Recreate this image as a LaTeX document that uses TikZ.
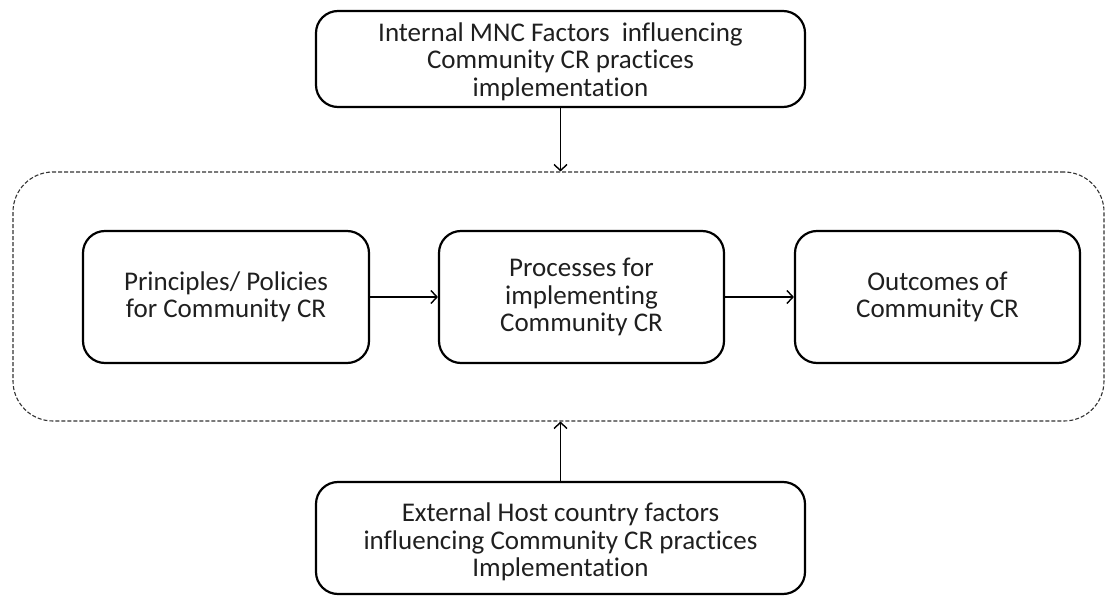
\documentclass[tikz,border=0pt]{standalone}
\usepackage{fontspec}
\setmainfont{Carlito}[Ligatures={NoCommon}]
\usetikzlibrary{arrows.meta}
\begin{document}
\begin{tikzpicture}[x=1pt,y=-1pt,
  box/.style={draw=black, line width=2.2pt, rounded corners=22pt, align=center, inner sep=0pt,
    font=\fontsize{27}{27.5}\selectfont, text=black!88},
  conn/.style={draw=black, line width=1.4pt, -{Straight Barb[length=6pt,width=13pt,line width=1.4pt]}},
  frame/.style={draw=black!80, line width=1.1pt, dashed, dash pattern=on 4pt off 2pt, rounded corners=40pt}]
\useasboundingbox (0,0) rectangle (1106,596);
\node[box, minimum width=489pt, minimum height=96pt] (top) at (560.5,59)
  {\rule{0pt}{24pt}Internal MNC Factors\ \ influencing\\Community CR practices\\implementation};
\node[frame, minimum width=1091pt, minimum height=249pt] (frm) at (558.5,296.5) {};
\node[box, minimum width=286pt, minimum height=132pt] (pp) at (226,297)
  {Principles/ Policies\\for Community CR};
\node[box, minimum width=285pt, minimum height=132pt] (proc) at (581.5,297)
  {Processes for\\implementing\\Community CR};
\node[box, minimum width=285pt, minimum height=132pt] (out) at (937.5,297)
  {Outcomes of\\Community CR};
\node[box, minimum width=489pt, minimum height=112pt] (bot) at (560.5,538)
  {\rule{0pt}{27pt}External Host country factors\\influencing Community CR practices\\Implementation};
\draw[conn] (top.south) -- (top.south |- frm.north);
\draw[conn] (bot.north) -- (bot.north |- frm.south);
\draw[conn] (pp.east) -- (proc.west);
\draw[conn] (proc.east) -- (out.west);
\end{tikzpicture}
\end{document}
